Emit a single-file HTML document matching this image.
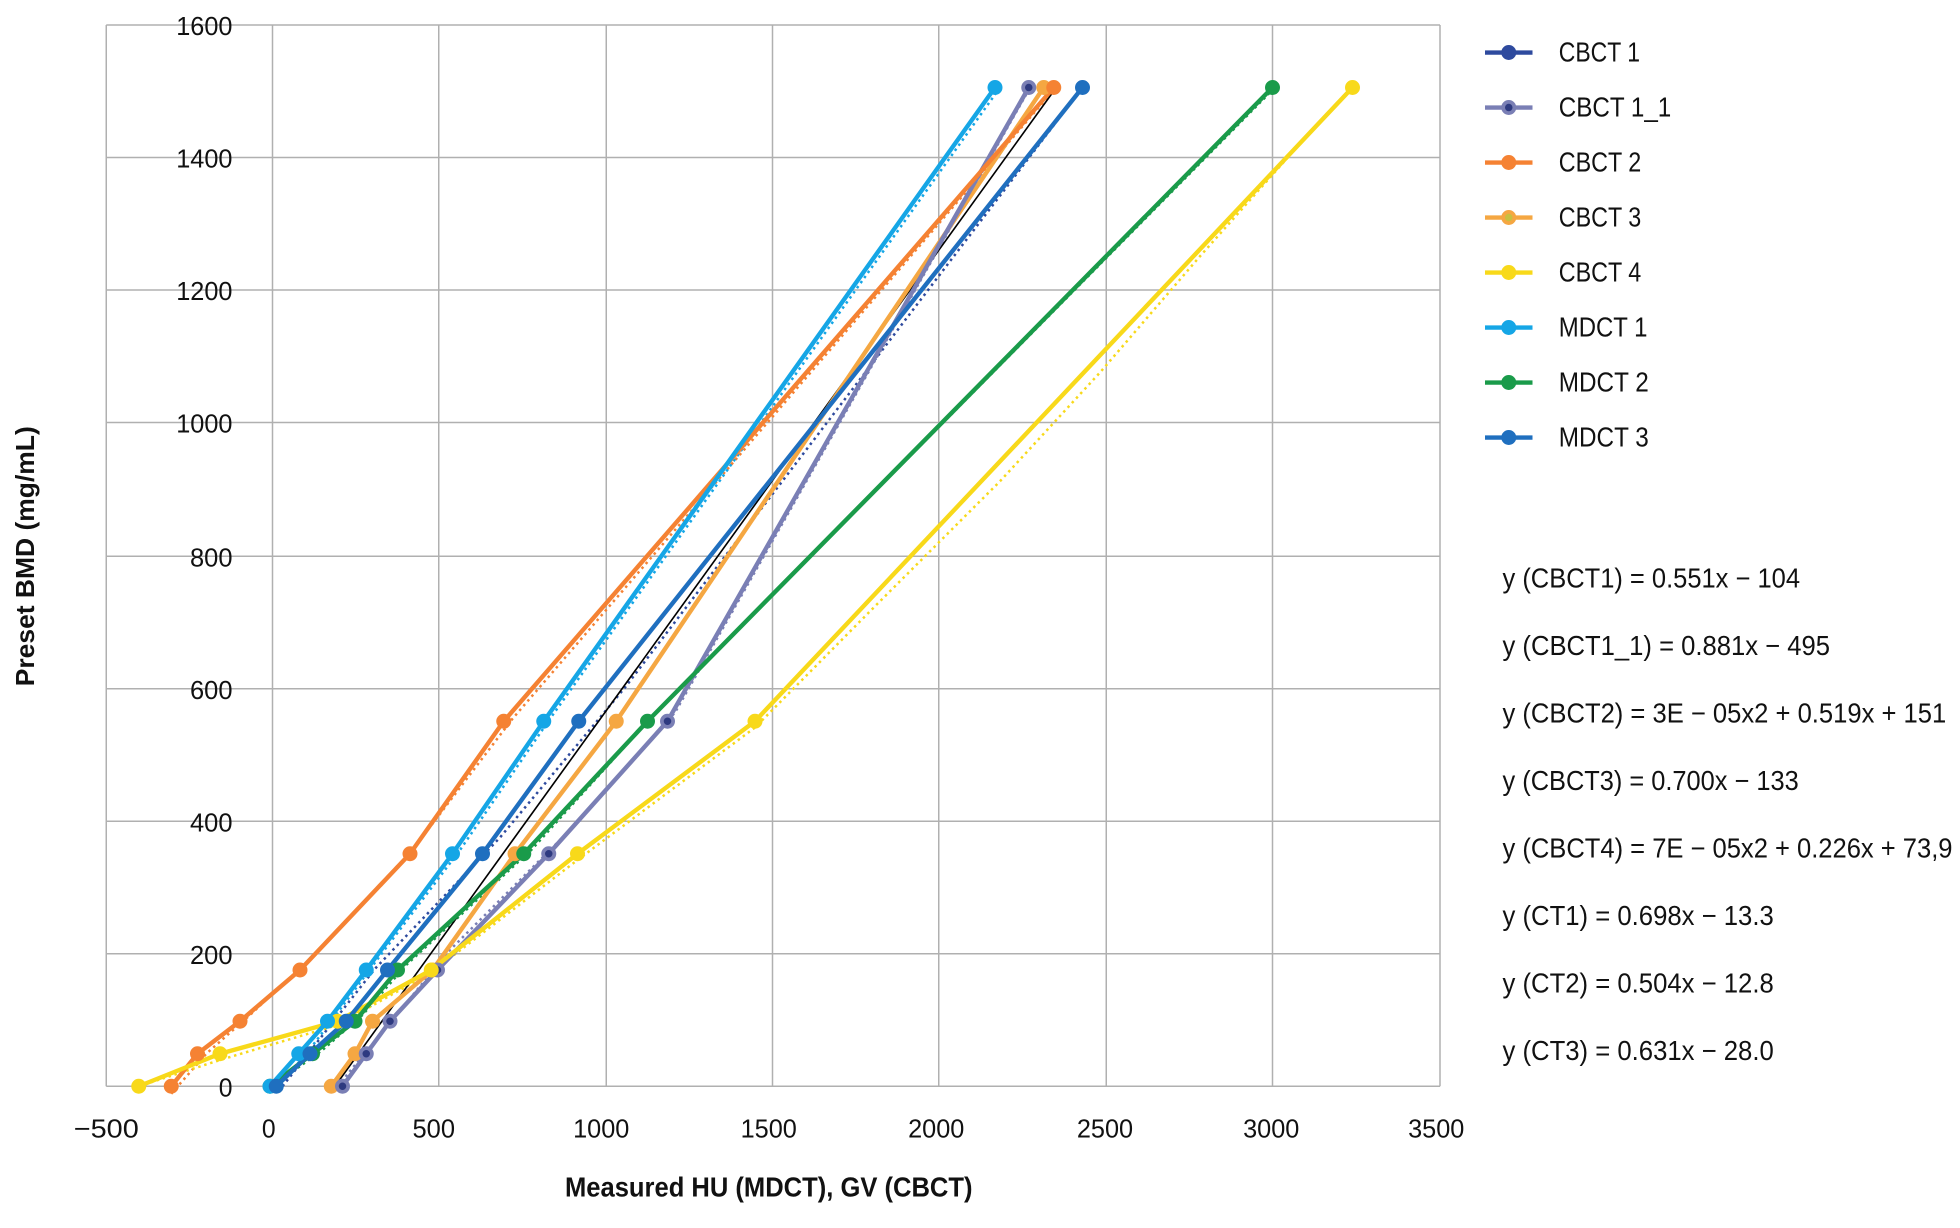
<!DOCTYPE html>
<html><head><meta charset="utf-8"><style>
html,body{margin:0;padding:0;background:#fff;}
svg{display:block}
text{font-family:"Liberation Sans",sans-serif;fill:#111}
</style></head><body>
<svg width="1960" height="1228" viewBox="0 0 1568 982.4" xmlns="http://www.w3.org/2000/svg">
<g stroke="#b0b0b0" stroke-width="1.2">
<line x1="85" y1="20" x2="85" y2="869"/><line x1="218" y1="20" x2="218" y2="869"/><line x1="351" y1="20" x2="351" y2="869"/><line x1="485" y1="20" x2="485" y2="869"/><line x1="618" y1="20" x2="618" y2="869"/><line x1="751" y1="20" x2="751" y2="869"/><line x1="885" y1="20" x2="885" y2="869"/><line x1="1018" y1="20" x2="1018" y2="869"/><line x1="1152" y1="20" x2="1152" y2="869"/>
<line x1="85" y1="20" x2="1152" y2="20"/><line x1="85" y1="126" x2="1152" y2="126"/><line x1="85" y1="232" x2="1152" y2="232"/><line x1="85" y1="338" x2="1152" y2="338"/><line x1="85" y1="445" x2="1152" y2="445"/><line x1="85" y1="551" x2="1152" y2="551"/><line x1="85" y1="657" x2="1152" y2="657"/><line x1="85" y1="763" x2="1152" y2="763"/><line x1="85" y1="869" x2="1152" y2="869"/>
</g>
<g font-size="21" text-anchor="end" lengthAdjust="spacingAndGlyphs">
<text x="186" y="28" textLength="45" lengthAdjust="spacingAndGlyphs">1600</text><text x="186" y="134" textLength="45" lengthAdjust="spacingAndGlyphs">1400</text><text x="186" y="240" textLength="45" lengthAdjust="spacingAndGlyphs">1200</text><text x="186" y="346" textLength="45" lengthAdjust="spacingAndGlyphs">1000</text><text x="186" y="453" textLength="34" lengthAdjust="spacingAndGlyphs">800</text><text x="186" y="559" textLength="34" lengthAdjust="spacingAndGlyphs">600</text><text x="186" y="665" textLength="34" lengthAdjust="spacingAndGlyphs">400</text><text x="186" y="771" textLength="34" lengthAdjust="spacingAndGlyphs">200</text><text x="186" y="877" textLength="11" lengthAdjust="spacingAndGlyphs">0</text>
</g>
<g font-size="21" text-anchor="middle">
<text x="85" y="910" textLength="52" lengthAdjust="spacingAndGlyphs">−500</text><text x="215" y="910" textLength="11" lengthAdjust="spacingAndGlyphs">0</text><text x="347" y="910" textLength="34" lengthAdjust="spacingAndGlyphs">500</text><text x="481" y="910" textLength="45" lengthAdjust="spacingAndGlyphs">1000</text><text x="615" y="910" textLength="45" lengthAdjust="spacingAndGlyphs">1500</text><text x="749" y="910" textLength="45" lengthAdjust="spacingAndGlyphs">2000</text><text x="884" y="910" textLength="45" lengthAdjust="spacingAndGlyphs">2500</text><text x="1017" y="910" textLength="45" lengthAdjust="spacingAndGlyphs">3000</text><text x="1149" y="910" textLength="45" lengthAdjust="spacingAndGlyphs">3500</text>
</g>
<text x="615" y="957" font-size="22" font-weight="bold" text-anchor="middle" textLength="326" lengthAdjust="spacingAndGlyphs">Measured HU (MDCT), GV (CBCT)</text>
<text transform="translate(27,445) rotate(-90)" font-size="21" font-weight="bold" text-anchor="middle" textLength="208" lengthAdjust="spacingAndGlyphs">Preset BMD (mg/mL)</text>

<g fill="none" stroke-width="2" stroke-dasharray="2,3">
<polyline stroke="#f58233" points="137,875 165,843 200,812 245,770 330,680 410,575 843,72"/>
<polyline stroke="#15a6e6" points="225,866 245,843 265,817 300,770 368,680 440,575 800,70"/>
<polyline stroke="#1a9b4a" points="222,866 258,840 290,812 325,772 425,680 520,575 1018,72"/>
<polyline stroke="#f8d91a" points="111,869 176,848 270,820 345,778 462,688 604,582 700,485 800,385 880,298 960,205 1040,115 1082,70"/>
<polyline stroke="#2e4a9e" points="226,869 300,775 400,670 500,550 866,70"/>
<polyline stroke="#7a7fb5" points="270,869 360,760 450,670 540,570 823,72"/>
</g>
<line x1="268" y1="869" x2="845" y2="70" stroke="#000" stroke-width="1.3"/>
<g fill="none" stroke-width="3.5">
<polyline stroke="#f5a742" points="265,869 284,843 298,817 346,776 412,683 493,577 835,70"/>
<polyline stroke="#7a7fb5" points="274,869 293,843 312,817 350,776 439,683 534,577 823,70"/>
<polyline stroke="#f58233" points="137,869 158,843 192,817 240,776 328,683 403,577 843,70"/>
<polyline stroke="#f8d91a" points="111,869 176,843 270,817 345,776 462,683 604,577 1082,70"/>
<polyline stroke="#1a9b4a" points="216,869 250,843 284,817 318,776 419,683 518,577 1018,70"/>
<polyline stroke="#15a6e6" points="216,869 239,843 262,817 293,776 362,683 435,577 796,70"/>
<polyline stroke="#1f6fbf" points="221,869 248,843 277,817 310,776 386,683 463,577 866,70"/>
</g>
<g stroke="none">
<g fill="#f5a742"><circle cx="265" cy="869" r="6"/><circle cx="284" cy="843" r="6"/><circle cx="298" cy="817" r="6"/><circle cx="346" cy="776" r="6"/><circle cx="412" cy="683" r="6"/><circle cx="493" cy="577" r="6"/><circle cx="835" cy="70" r="6"/></g>
<g fill="#7a7fb5"><circle cx="274" cy="869" r="6"/><circle cx="293" cy="843" r="6"/><circle cx="312" cy="817" r="6"/><circle cx="350" cy="776" r="6"/><circle cx="439" cy="683" r="6"/><circle cx="534" cy="577" r="6"/><circle cx="823" cy="70" r="6"/></g>
<g fill="#2e3a80"><circle cx="274" cy="869" r="3"/><circle cx="293" cy="843" r="3"/><circle cx="312" cy="817" r="3"/><circle cx="350" cy="776" r="3"/><circle cx="439" cy="683" r="3"/><circle cx="534" cy="577" r="3"/><circle cx="823" cy="70" r="3"/></g>
<g fill="#f58233"><circle cx="137" cy="869" r="6"/><circle cx="158" cy="843" r="6"/><circle cx="192" cy="817" r="6"/><circle cx="240" cy="776" r="6"/><circle cx="328" cy="683" r="6"/><circle cx="403" cy="577" r="6"/><circle cx="843" cy="70" r="6"/></g>
<g fill="#f8d91a"><circle cx="111" cy="869" r="6"/><circle cx="176" cy="843" r="6"/><circle cx="270" cy="817" r="6"/><circle cx="345" cy="776" r="6"/><circle cx="462" cy="683" r="6"/><circle cx="604" cy="577" r="6"/><circle cx="1082" cy="70" r="6"/></g>
<g fill="#1a9b4a"><circle cx="216" cy="869" r="6"/><circle cx="250" cy="843" r="6"/><circle cx="284" cy="817" r="6"/><circle cx="318" cy="776" r="6"/><circle cx="419" cy="683" r="6"/><circle cx="518" cy="577" r="6"/><circle cx="1018" cy="70" r="6"/></g>
<g fill="#15a6e6"><circle cx="216" cy="869" r="6"/><circle cx="239" cy="843" r="6"/><circle cx="262" cy="817" r="6"/><circle cx="293" cy="776" r="6"/><circle cx="362" cy="683" r="6"/><circle cx="435" cy="577" r="6"/><circle cx="796" cy="70" r="6"/></g>
<g fill="#1f6fbf"><circle cx="221" cy="869" r="6"/><circle cx="248" cy="843" r="6"/><circle cx="277" cy="817" r="6"/><circle cx="310" cy="776" r="6"/><circle cx="386" cy="683" r="6"/><circle cx="463" cy="577" r="6"/><circle cx="866" cy="70" r="6"/></g>
</g>
<g stroke-width="3.5">
<line x1="1188" y1="42" x2="1226" y2="42" stroke="#2e4a9e"/><circle cx="1207" cy="42" r="6" fill="#2e4a9e"/>
<line x1="1188" y1="86" x2="1226" y2="86" stroke="#7a7fb5"/><circle cx="1207" cy="86" r="6" fill="#7a7fb5"/><circle cx="1207" cy="86" r="3" fill="#2e3a80"/>
<line x1="1188" y1="130" x2="1226" y2="130" stroke="#f58233"/><circle cx="1207" cy="130" r="6" fill="#f58233"/>
<line x1="1188" y1="174" x2="1226" y2="174" stroke="#f5a742"/><circle cx="1207" cy="174" r="6" fill="#f5a742"/><circle cx="1207" cy="174" r="3" fill="#c8c040"/>
<line x1="1188" y1="218" x2="1226" y2="218" stroke="#f8d91a"/><circle cx="1207" cy="218" r="6" fill="#f8d91a"/>
<line x1="1188" y1="262" x2="1226" y2="262" stroke="#15a6e6"/><circle cx="1207" cy="262" r="6" fill="#15a6e6"/>
<line x1="1188" y1="306" x2="1226" y2="306" stroke="#1a9b4a"/><circle cx="1207" cy="306" r="6" fill="#1a9b4a"/>
<line x1="1188" y1="350" x2="1226" y2="350" stroke="#1f6fbf"/><circle cx="1207" cy="350" r="6" fill="#1f6fbf"/>
</g>
<g font-size="22">
<text x="1247" y="49" textLength="65" lengthAdjust="spacingAndGlyphs">CBCT 1</text><text x="1247" y="93" textLength="90" lengthAdjust="spacingAndGlyphs">CBCT 1_1</text><text x="1247" y="137" textLength="66" lengthAdjust="spacingAndGlyphs">CBCT 2</text><text x="1247" y="181" textLength="66" lengthAdjust="spacingAndGlyphs">CBCT 3</text><text x="1247" y="225" textLength="66" lengthAdjust="spacingAndGlyphs">CBCT 4</text><text x="1247" y="269" textLength="71" lengthAdjust="spacingAndGlyphs">MDCT 1</text><text x="1247" y="313" textLength="72" lengthAdjust="spacingAndGlyphs">MDCT 2</text><text x="1247" y="357" textLength="72" lengthAdjust="spacingAndGlyphs">MDCT 3</text>
</g>
<g font-size="22">
<text x="1202" y="470" textLength="238" lengthAdjust="spacingAndGlyphs">y (CBCT1) = 0.551x − 104</text>
<text x="1202" y="524" textLength="262" lengthAdjust="spacingAndGlyphs">y (CBCT1_1) = 0.881x − 495</text>
<text x="1202" y="578" textLength="355" lengthAdjust="spacingAndGlyphs">y (CBCT2) = 3E − 05x2 + 0.519x + 151</text>
<text x="1202" y="632" textLength="237" lengthAdjust="spacingAndGlyphs">y (CBCT3) = 0.700x − 133</text>
<text x="1202" y="686" textLength="360" lengthAdjust="spacingAndGlyphs">y (CBCT4) = 7E − 05x2 + 0.226x + 73,9</text>
<text x="1202" y="740" textLength="217" lengthAdjust="spacingAndGlyphs">y (CT1) = 0.698x − 13.3</text>
<text x="1202" y="794" textLength="217" lengthAdjust="spacingAndGlyphs">y (CT2) = 0.504x − 12.8</text>
<text x="1202" y="848" textLength="217" lengthAdjust="spacingAndGlyphs">y (CT3) = 0.631x − 28.0</text>
</g>
</svg>
</body></html>
